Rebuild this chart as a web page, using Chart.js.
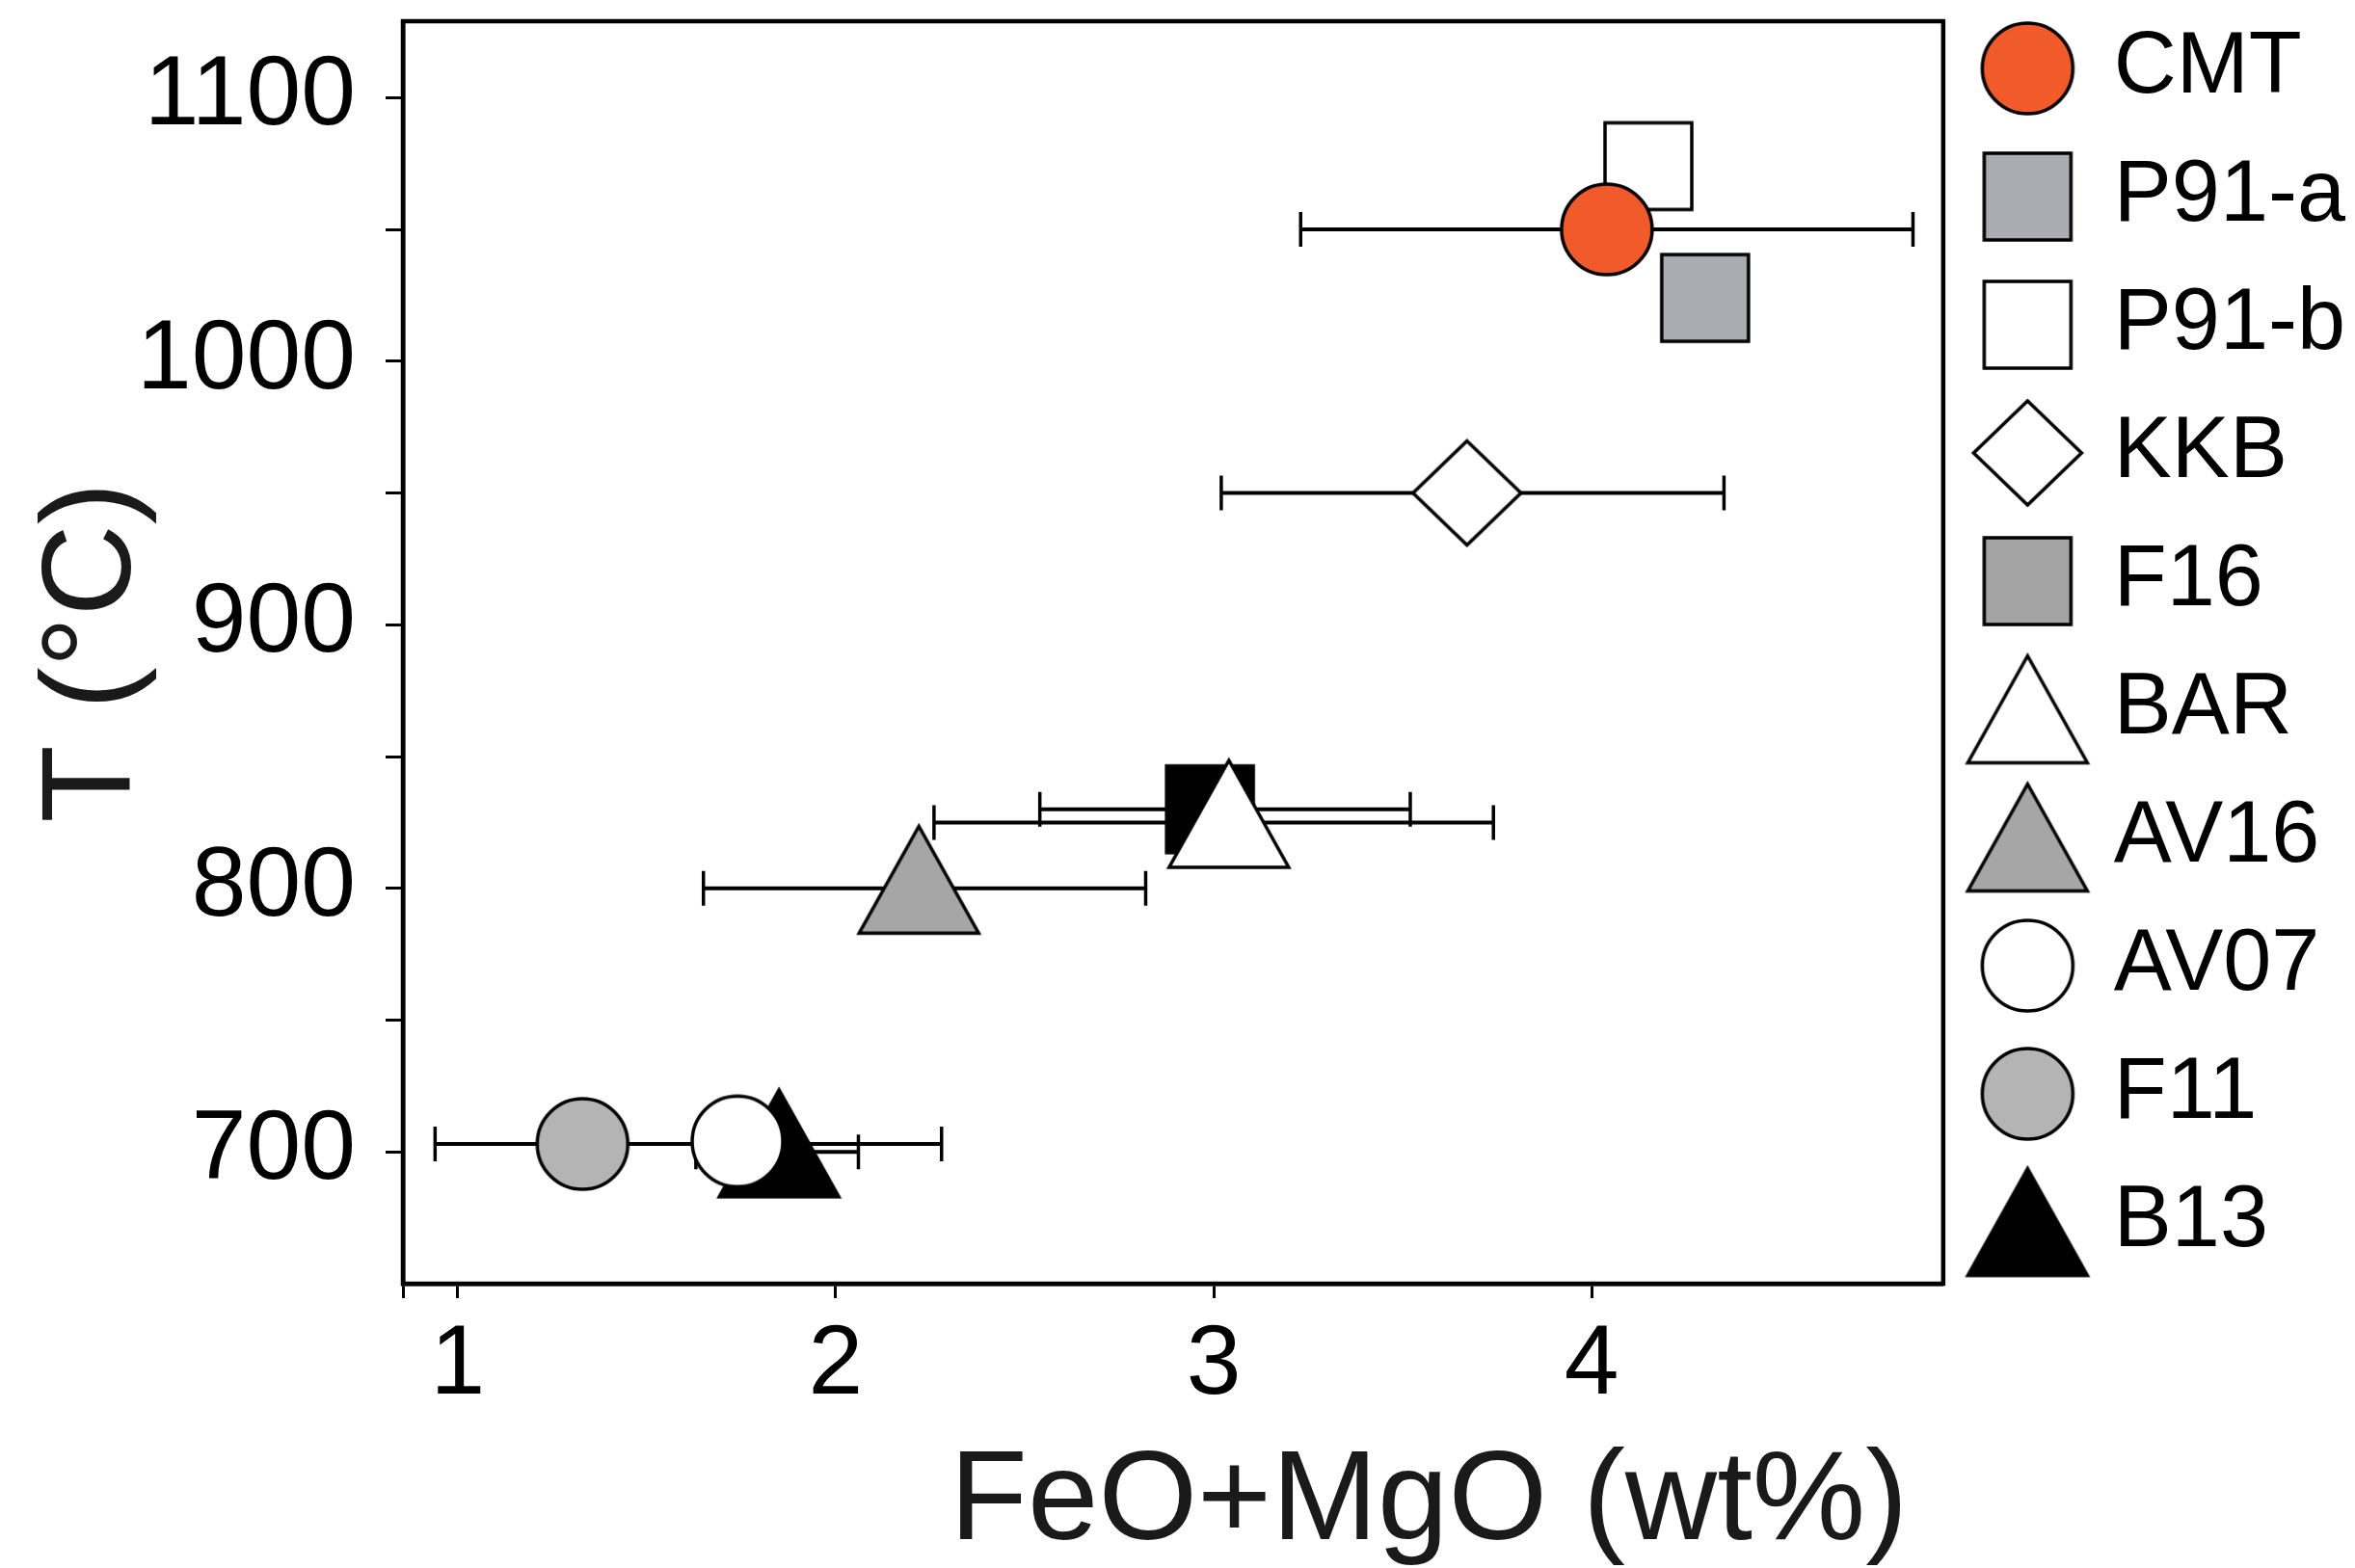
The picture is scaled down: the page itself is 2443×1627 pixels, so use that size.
<!DOCTYPE html>
<html>
<head>
<meta charset="utf-8">
<script src="https://cdn.jsdelivr.net/npm/chart.js@4.4.1/dist/chart.umd.min.js"></script>
<style>
  html, body { margin: 0; padding: 0; background: #fff; }
  canvas { display: block; }
</style>
</head>
<body>
<canvas id="tChart" width="2443" height="1627"></canvas>
<script>
// ── Data ─────────────────────────────────────────────────────────────────────
const seriesNames = ['CMT', 'P91-a', 'P91-b', 'KKB', 'F16', 'BAR', 'AV16', 'AV07', 'F11', 'B13'];
const feoMgo      = [4.04, 4.30, 4.15, 3.67, 2.99, 3.04, 2.22, 1.74, 1.33, 1.85];
const tempC       = [1050, 1024, 1074, 950, 830, 825, 800, 704, 703, 700];
const errLow      = [3.23, null, null, 3.02, 2.54, 2.26, 1.65, null, 0.94, 1.63];
const errHigh     = [4.85, null, null, 4.35, 3.52, 3.74, 2.82, null, 2.28, 2.06];

const xTickValues = [0.855, 1, 2, 3, 4];
const xTickLabels = ['', '1', '2', '3', '4'];
const yTickValues = [700, 750, 800, 850, 900, 950, 1000, 1050, 1100];
const yTickLabels = ['700', '', '800', '', '900', '', '1000', '', '1100'];

// ── Marker styles ─────────────────────────────────────────────────────────────
const markerShape = ['circle', 'square', 'square', 'diamond', 'square', 'triangle', 'triangle', 'circle', 'circle', 'triangle'];
const plotFill    = ['#f15a2b', '#a9adb1', '#ffffff', '#ffffff', '#000000', '#ffffff', '#a6a6a6', '#ffffff', '#b4b4b4', '#000000'];
const legendFill  = ['#f15a2b', '#a9adb1', '#ffffff', '#ffffff', '#a4a4a4', '#ffffff', '#a6a6a6', '#ffffff', '#b4b4b4', '#000000'];
const drawOrder   = [1, 1, 1, 1, 1, 0, 1, 1, 1, 1];

const AXIS_FONT = "'Liberation Sans', Arial, sans-serif";

function makeMarker(shape, fill, lift) {
  const dims = { circle: [94, 94], square: [90, 90], diamond: [112, 108], triangle: [124, 111] }[shape];
  const pad = 4;
  const w = dims[0] + 2 * pad;
  const h = dims[1] + 2 * pad + 2 * lift;
  const cv = document.createElement('canvas');
  cv.width = w;
  cv.height = h;
  const g = cv.getContext('2d');
  const cx = w / 2, cy = h / 2 - lift;
  const hw = dims[0] / 2, hh = dims[1] / 2;
  g.beginPath();
  if (shape === 'circle') {
    g.arc(cx, cy, hw, 0, Math.PI * 2);
  } else if (shape === 'square') {
    g.rect(cx - hw, cy - hh, dims[0], dims[1]);
  } else if (shape === 'diamond') {
    g.moveTo(cx, cy - hh);
    g.lineTo(cx + hw, cy);
    g.lineTo(cx, cy + hh);
    g.lineTo(cx - hw, cy);
    g.closePath();
  } else {
    g.moveTo(cx, cy - hh);
    g.lineTo(cx + hw, cy + hh);
    g.lineTo(cx - hw, cy + hh);
    g.closePath();
  }
  g.fillStyle = fill;
  g.fill();
  g.lineWidth = 3.5;
  g.lineJoin = 'miter';
  g.strokeStyle = '#000';
  g.stroke();
  return cv;
}

const plotMarkers = seriesNames.map((_, i) =>
  makeMarker(markerShape[i], plotFill[i], markerShape[i] === 'triangle' ? 9 : 0));
const legendMarkers = seriesNames.map((_, i) => makeMarker(markerShape[i], legendFill[i], 0));

// ── Datasets ─────────────────────────────────────────────────────────────────
function buildDatasets() {
  const points = seriesNames.map((name, i) => ({
    label: name,
    data: [{ x: feoMgo[i], y: tempC[i] }],
    pointStyle: plotMarkers[i],
    pointRadius: 46,
    pointHoverRadius: 46,
    order: drawOrder[i],
  }));

  const bars = [];
  seriesNames.forEach((name, i) => {
    if (errLow[i] == null) return;
    bars.push({
      label: `${name} range`,
      data: [{ x: errLow[i], y: tempC[i] }, { x: errHigh[i], y: tempC[i] }],
      showLine: true,
      borderColor: '#000',
      borderWidth: 4,
      pointStyle: 'line',
      rotation: 90,
      pointRadius: 18,
      pointHoverRadius: 18,
      pointBorderColor: '#000',
      pointBorderWidth: 3.5,
      order: 5,
    });
  });
  return [...points, ...bars];
}

// frame round the plot area (top and right sides have no axis)
const framePlugin = {
  id: 'plotFrame',
  afterDraw(chart) {
    const { ctx, chartArea } = chart;
    ctx.save();
    ctx.strokeStyle = '#000';
    ctx.lineWidth = 4.5;
    ctx.strokeRect(chartArea.left, chartArea.top,
      chartArea.right - chartArea.left, chartArea.bottom - chartArea.top);
    ctx.restore();
  },
};

const noEdgePadding = s => {
  s.paddingTop = 0; s.paddingBottom = 0; s.paddingLeft = 0; s.paddingRight = 0;
};

new Chart(document.getElementById('tChart').getContext('2d'), {
  type: 'scatter',
  data: { datasets: buildDatasets() },
  plugins: [framePlugin],
  options: {
    responsive: false,
    animation: false,
    layout: { autoPadding: false, padding: { top: -17, right: 0, bottom: 0, left: 0 } },
    plugins: {
      tooltip: { enabled: false },
      legend: {
        display: true,
        position: 'right',
        align: 'start',
        labels: {
          usePointStyle: true,
          pointStyleWidth: 89,
          padding: 43,
          color: '#000',
          font: { family: AXIS_FONT, size: 90 },
          generateLabels: () => seriesNames.map((name, i) => ({
            text: name,
            pointStyle: legendMarkers[i],
            fillStyle: legendFill[i],
            strokeStyle: '#000',
            lineWidth: 0,
            hidden: false,
            fontColor: '#000',
            datasetIndex: i,
          })),
        },
      },
    },
    scales: {
      x: {
        type: 'linear',
        position: 'bottom',
        min: 0.855,
        max: 4.93,
        afterBuildTicks: axis => { axis.ticks = xTickValues.map(v => ({ value: v })); },
        afterFit: s => { noEdgePadding(s); s.height = 295; },
        ticks: {
          color: '#000',
          padding: 10,
          maxRotation: 0,
          autoSkip: false,
          font: { family: AXIS_FONT, size: 102 },
          callback: (v, i) => xTickLabels[i],
        },
        grid: { drawOnChartArea: false, drawTicks: true, tickLength: 15, tickWidth: 3, tickColor: '#000' },
        border: { display: true, color: '#000', width: 4.5 },
        title: {
          display: true,
          text: 'FeO+MgO (wt%) ',
          align: 'end',
          color: '#1a1a1a',
          font: { family: AXIS_FONT, size: 132, lineHeight: 1 },
          padding: { top: 20, bottom: 0 },
        },
      },
      xTop: {
        type: 'linear',
        position: 'top',
        display: true,
        grid: { display: false },
        ticks: { display: false },
        border: { display: false },
        afterFit: s => { noEdgePadding(s); s.height = 39; },
      },
      y: {
        type: 'linear',
        min: 650,
        max: 1129,
        afterBuildTicks: axis => { axis.ticks = yTickValues.map(v => ({ value: v })); },
        afterFit: s => { noEdgePadding(s); s.width = 418; },
        ticks: {
          color: '#000',
          padding: 31,
          autoSkip: false,
          font: { family: AXIS_FONT, size: 102 },
          callback: (v, i) => yTickLabels[i],
        },
        grid: { drawOnChartArea: false, drawTicks: true, tickLength: 18, tickWidth: 3, tickColor: '#000' },
        border: { display: true, color: '#000', width: 4.5 },
        title: {
          display: true,
          text: 'T (°C)',
          color: '#1a1a1a',
          font: { family: AXIS_FONT, size: 132, lineHeight: 0.8 },
          padding: { top: 46, bottom: 4 },
        },
      },
    },
  },
});
</script>
</body>
</html>
